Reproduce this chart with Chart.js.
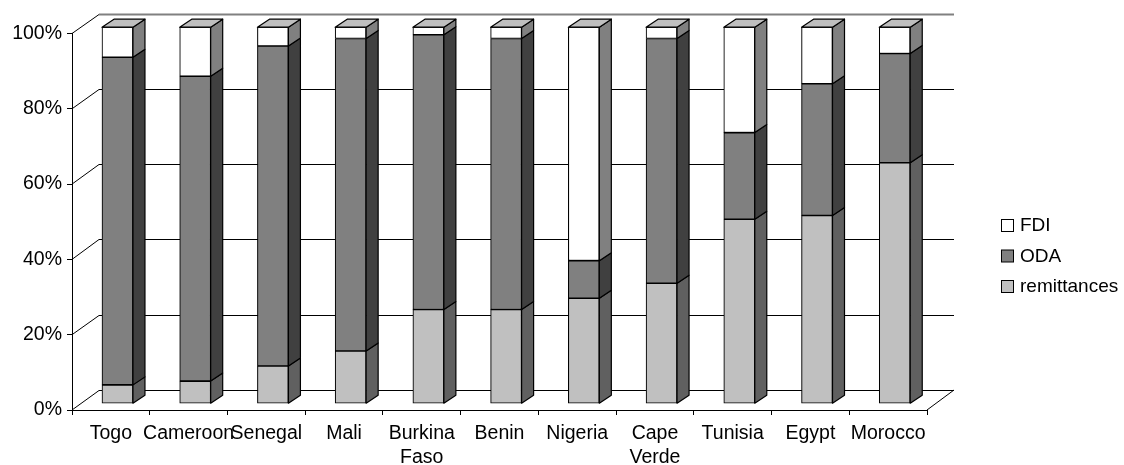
<!DOCTYPE html>
<html lang="en">
<head>
<meta charset="UTF-8">
<title>Remittances, ODA and FDI</title>
<script src="https://cdn.jsdelivr.net/npm/chart.js@4"></script>
<style>
html,body{margin:0;padding:0;background:#fff}
#wrap{width:1124px;height:465px}
</style>
</head>
<body>
<div id="wrap"><canvas id="chart" width="1124" height="465"></canvas></div>
<script>
const categories=['Togo','Cameroon','Senegal','Mali',['Burkina','Faso'],'Benin','Nigeria',['Cape','Verde'],'Tunisia','Egypt','Morocco'];
const remittances=[5,6,10,14,25,25,28,32,49,50,64];
const oda=[87,81,85,83,73,72,10,65,23,35,29];
const fdi=[8,13,5,3,2,3,62,3,28,15,7];
const yTicks=[0,20,40,60,80,100];
const legendNames=['FDI','ODA','remittances'];
const legendColors=['#ffffff','#808080','#c0c0c0'];

const FAMILY='"Liberation Sans", Arial, sans-serif';
const WALL={x:27,y:-20};   // depth of the floor/side wall
const BAR_SHIFT={x:6.6,y:-6.3}; // bars stand mid-floor
const BAR_DEPTH={x:12,y:-8};
const sideColors=['#606060','#404040','#808080'];

function line(ctx,x1,y1,x2,y2){
  ctx.beginPath();ctx.moveTo(x1,y1);ctx.lineTo(x2,y2);ctx.stroke();
}
function poly(ctx,pts,fill){
  ctx.beginPath();
  pts.forEach((p,i)=>i?ctx.lineTo(p[0],p[1]):ctx.moveTo(p[0],p[1]));
  ctx.closePath();
  ctx.fillStyle=fill;ctx.fill();ctx.stroke();
}

const box3d={
  id:'box3d',
  beforeDatasetsDraw(chart){
    const {ctx,chartArea:a,scales:{y}}=chart;
    ctx.save();
    ctx.lineWidth=1;
    ctx.strokeStyle='#000';
    yTicks.forEach(v=>{
      const py=y.getPixelForValue(v);
      const back=Math.round(py+WALL.y)+.5;
      line(ctx,a.left,py,a.left+WALL.x,back);
      if(v===100){
        ctx.save();ctx.strokeStyle='#808080';ctx.lineWidth=2;
        line(ctx,a.left+WALL.x,back,a.right+WALL.x,back);
        ctx.restore();
      }else{
        line(ctx,a.left+WALL.x,back,a.right+WALL.x,back);
      }
    });
    line(ctx,a.right,a.bottom,a.right+WALL.x,a.bottom+WALL.y);
    ctx.restore();
    ctx.save();
    ctx.translate(BAR_SHIFT.x,BAR_SHIFT.y);
  },
  afterDatasetsDraw(chart){
    const ctx=chart.ctx;
    ctx.strokeStyle='#000';
    ctx.lineWidth=1.2;
    ctx.lineJoin='round';
    const dx=BAR_DEPTH.x,dy=BAR_DEPTH.y;
    chart.data.datasets.forEach((ds,i)=>{
      chart.getDatasetMeta(i).data.forEach(bar=>{
        const r=bar.x+bar.width/2,l=bar.x-bar.width/2;
        poly(ctx,[[r,bar.y],[r+dx,bar.y+dy],[r+dx,bar.base+dy],[r,bar.base]],sideColors[i]);
        if(i===chart.data.datasets.length-1){
          poly(ctx,[[l,bar.y],[l+dx,bar.y+dy],[r+dx,bar.y+dy],[r,bar.y]],'#bfbfbf');
        }
      });
    });
    ctx.restore();
  },
  afterDraw(chart){
    const ctx=chart.ctx;
    ctx.save();
    ctx.font='19px '+FAMILY;
    ctx.textBaseline='middle';
    ctx.strokeStyle='#000';
    ctx.lineWidth=1;
    legendNames.forEach((n,i)=>{
      const top=219+i*30.5;
      ctx.fillStyle=legendColors[i];
      ctx.fillRect(1001.5,top+.5,12,12);
      ctx.strokeRect(1001.5,top+.5,12,12);
      ctx.fillStyle='#000';
      ctx.fillText(n,1020,top+7);
    });
    ctx.restore();
  }
};

function dataset(label,data,color){
  return {label,data,backgroundColor:color,borderColor:'#000',borderWidth:1.1,borderSkipped:false,barThickness:31,clip:false};
}

new Chart(document.getElementById('chart'),{
  type:'bar',
  data:{labels:categories,datasets:[
    dataset('remittances',remittances,'#c0c0c0'),
    dataset('ODA',oda,'#808080'),
    dataset('FDI',fdi,'#ffffff')
  ]},
  options:{
    responsive:false,
    animation:false,
    devicePixelRatio:1,
    layout:{autoPadding:false,padding:{left:0,top:33.5,right:197,bottom:0}},
    plugins:{legend:{display:false},title:{display:false},tooltip:{enabled:false}},
    scales:{
      x:{
        stacked:true,
        afterFit:s=>{s.height=55},
        grid:{drawOnChartArea:false,tickLength:5,tickColor:'#000'},
        border:{color:'#000'},
        ticks:{color:'#000',font:{family:FAMILY,size:19.5,lineHeight:1.25},padding:6,autoSkip:false,maxRotation:0,minRotation:0}
      },
      y:{
        stacked:true,
        min:0,max:100,
        afterFit:s=>{s.width=72},
        afterBuildTicks:s=>{s.ticks=yTicks.map(v=>({value:v}))},
        grid:{drawOnChartArea:false,tickLength:5,tickColor:'#000'},
        border:{color:'#000'},
        ticks:{color:'#000',font:{family:FAMILY,size:19.5},padding:5,callback:v=>v+'%'}
      }
    }
  },
  plugins:[box3d]
});
</script>
</body>
</html>
